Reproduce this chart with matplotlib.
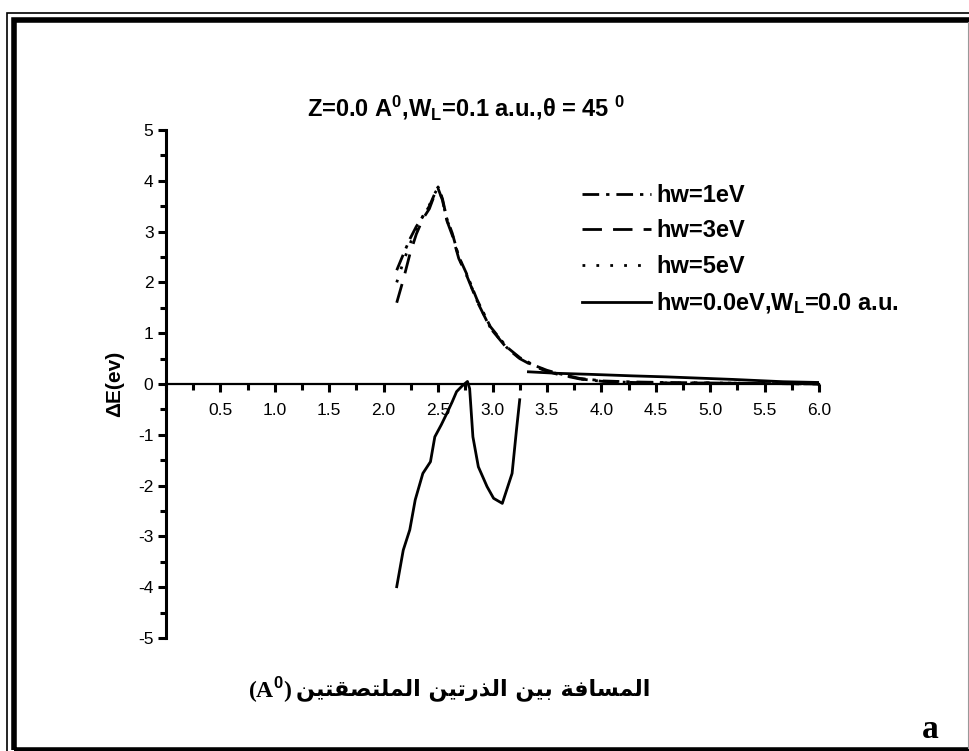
import numpy as np
import matplotlib
matplotlib.use('Agg')
import matplotlib.pyplot as plt
from matplotlib.patches import Rectangle
from matplotlib.lines import Line2D
from matplotlib.ticker import MultipleLocator

plt.rcParams['font.family'] = ['Liberation Sans', 'DejaVu Sans']
plt.rcParams['mathtext.fontset'] = 'custom'
plt.rcParams['mathtext.rm'] = 'Liberation Sans'
plt.rcParams['mathtext.it'] = 'Liberation Sans:italic'
plt.rcParams['mathtext.bf'] = 'Liberation Sans:bold'

# values
x1 = [2.12, 2.18, 2.24, 2.30, 2.36, 2.42, 2.46, 2.50, 2.54, 2.58, 2.63, 2.69, 2.76, 2.86,
      2.98, 3.13, 3.25, 3.38, 3.50, 3.60, 3.80, 4.02, 4.30, 4.60, 5.00, 5.50, 6.00]
y1 = [2.24, 2.55, 2.85, 3.10, 3.30, 3.50, 3.70, 3.88, 3.65, 3.26, 2.97, 2.51, 2.18, 1.65,
      1.13, 0.73, 0.52, 0.37, 0.27, 0.21, 0.11, 0.06, 0.04, 0.03, 0.02, 0.01, 0.00]
y3 = [1.60, 2.05, 2.55, 2.95, 3.25, 3.45, 3.68, 3.85, 3.62, 3.22, 2.93, 2.47, 2.15, 1.62,
      1.10, 0.71, 0.50, 0.35, 0.25, 0.19, 0.10, 0.05, 0.03, 0.02, 0.02, 0.01, 0.00]
y5 = [2.00, 2.40, 2.75, 3.05, 3.30, 3.52, 3.72, 3.86, 3.63, 3.24, 2.95, 2.49, 2.16, 1.63,
      1.11, 0.72, 0.51, 0.36, 0.26, 0.20, 0.10, 0.05, 0.03, 0.02, 0.02, 0.01, 0.00]

x0 = [2.12, 2.18, 2.24, 2.29, 2.36, 2.43, 2.47, 2.53, 2.58, 2.63, 2.67, 2.72, 2.77, 2.79,
      2.82, 2.87, 2.95, 3.01, 3.09, 3.18, 3.22, 3.25, np.nan,
      3.33, 3.60, 3.90, 4.29, 4.60, 5.21, 5.67, 6.00]
y0 = [-3.99, -3.27, -2.87, -2.28, -1.76, -1.53, -1.04, -0.80, -0.58, -0.35, -0.15, -0.04, 0.05, -0.09,
      -1.04, -1.63, -2.02, -2.25, -2.35, -1.76, -0.91, -0.31, np.nan,
      0.24, 0.21, 0.19, 0.16, 0.14, 0.09, 0.045, 0.03]

labels = ['hw=1eV', 'hw=3eV', 'hw=5eV', r'hw=0.0eV,W$_{\mathbf{L}}$=0.0 a.u.']
xticks = [0.5, 1.0, 1.5, 2.0, 2.5, 3.0, 3.5, 4.0, 4.5, 5.0, 5.5, 6.0]
yticks = [-5, -4, -3, -2, -1, 0, 1, 2, 3, 4, 5]

# arabic x label, shaped by hand (presentation forms) because matplotlib has no shaping
xlabel_ar = 'المسافة بين الذرتين الملتصقتين'
forms = {
    'ا': ('\uFE8D', '\uFE8E', None, None),
    'ب': ('\uFE8F', '\uFE90', '\uFE91', '\uFE92'),
    'ة': ('\uFE93', '\uFE94', None, None),
    'ت': ('\uFE95', '\uFE96', '\uFE97', '\uFE98'),
    'ذ': ('\uFEAB', '\uFEAC', None, None),
    'ر': ('\uFEAD', '\uFEAE', None, None),
    'س': ('\uFEB1', '\uFEB2', '\uFEB3', '\uFEB4'),
    'ص': ('\uFEB9', '\uFEBA', '\uFEBB', '\uFEBC'),
    'ف': ('\uFED1', '\uFED2', '\uFED3', '\uFED4'),
    'ق': ('\uFED5', '\uFED6', '\uFED7', '\uFED8'),
    'ل': ('\uFEDD', '\uFEDE', '\uFEDF', '\uFEE0'),
    'م': ('\uFEE1', '\uFEE2', '\uFEE3', '\uFEE4'),
    'ن': ('\uFEE5', '\uFEE6', '\uFEE7', '\uFEE8'),
    'ي': ('\uFEF1', '\uFEF2', '\uFEF3', '\uFEF4'),
}


def shape(word):
    out = ''
    for i, ch in enumerate(word):
        f = forms[ch]
        prev = i > 0 and forms[word[i - 1]][2] is not None
        nxt = i < len(word) - 1 and f[2] is not None
        if prev and nxt:
            out += f[3]
        elif prev:
            out += f[1]
        elif nxt:
            out += f[2]
        else:
            out += f[0]
    return out


shaped = ' '.join(shape(w) for w in xlabel_ar.split(' '))[::-1]

fig = plt.figure(figsize=(9.69, 7.51), dpi=100)
ax = fig.add_axes([166 / 969, 1 - 638 / 751, 653 / 969, 508 / 751])

lw = 2.0
ax.plot(x1, y1, color='black', lw=lw, ls=(0, (6, 2.5, 1.2, 2.5)), label=labels[0])
ax.plot(x1, y3, color='black', lw=lw, ls=(0, (7, 4)), label=labels[1])
ax.plot(x1, y5, color='black', lw=lw, ls=(0, (1, 4)), label=labels[2])
ax.plot(x0, y0, color='black', lw=lw, ls='-', label=labels[3])

ax.set_xlim(0, 6.0)
ax.set_ylim(-5, 5)
ax.spines['top'].set_visible(False)
ax.spines['right'].set_visible(False)
ax.spines['bottom'].set_position(('data', 0))
ax.spines['bottom'].set_linewidth(1.6)
ax.spines['left'].set_linewidth(2.2)

ax.set_xticks(xticks)
ax.set_xticklabels(['%.1f' % v for v in xticks])
ax.xaxis.set_minor_locator(MultipleLocator(0.25))
ax.set_yticks(yticks)
ax.set_yticklabels([str(v) for v in yticks])
ax.yaxis.set_minor_locator(MultipleLocator(0.5))
ax.tick_params(axis='both', which='major', direction='out', length=6, width=2.2, labelsize=12.5)
ax.tick_params(axis='both', which='minor', direction='out', length=4, width=2.2)
ax.tick_params(axis='x', which='major', pad=8)
ax.tick_params(axis='y', which='major', pad=3)

ax.set_ylabel('ΔE(ev)', fontsize=15, fontweight='bold', labelpad=10)

ax.legend(loc='upper left', bbox_to_anchor=(570 / 969, 1 - 172 / 751), bbox_transform=fig.transFigure,
          frameon=False, borderpad=0, handlelength=2.95, handletextpad=0.2, labelspacing=0.53,
          prop={'size': 17, 'weight': 'bold'})

fig.text(466 / 969, 1 - 107 / 751, 'Z=0.0 A$^{\\mathbf{0}}$,W$_{\\mathbf{L}}$=0.1 a.u.,\u03b8 = 45 $^{\\mathbf{0}}$',
         ha='center', va='center', fontsize=17, fontweight='bold')

fig.text(296 / 969, 1 - 690 / 751, shaped, ha='left', va='center', fontsize=16, fontweight='bold',
         family=['DejaVu Sans'])
fig.text(292 / 969, 1 - 690 / 751, r'(A$^{\mathbf{0}}$)', ha='right', va='center', fontsize=17,
         fontweight='bold', family=['Liberation Serif'])
fig.text(930 / 969, 1 - 730 / 751, 'a', ha='center', va='center', fontsize=24, fontweight='bold',
         family=['Liberation Serif'])

# double frame round the page
fig.patches.append(Rectangle((6.5 / 969, -0.1), 1.2, (751 - 12.5) / 751 + 0.1, transform=fig.transFigure,
                             fill=False, ec='black', lw=1.2))
fig.patches.append(Rectangle((14 / 969, 1.5 / 751), 1.2, (751 - 20 - 1.5) / 751, transform=fig.transFigure,
                             fill=False, ec='black', lw=4))
fig.add_artist(Line2D([967.5 / 969, 967.5 / 969], [3 / 751, 1 - 22 / 751], transform=fig.transFigure,
                      color='#999999', lw=0.8))

fig.savefig('out.png', dpi=100)
